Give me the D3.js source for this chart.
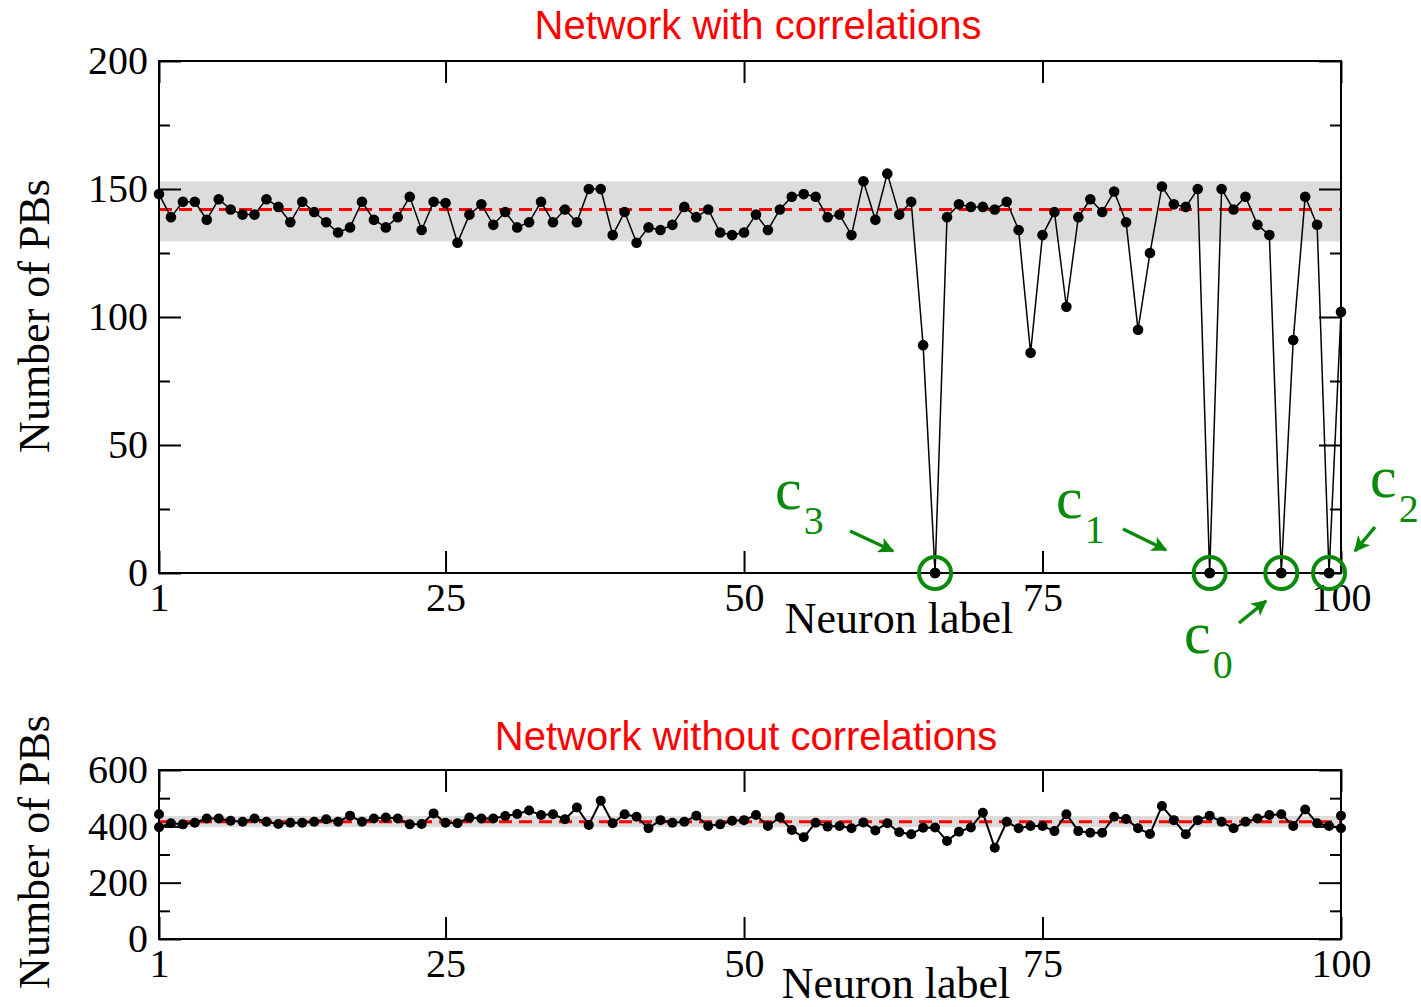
<!DOCTYPE html>
<html>
<head>
<meta charset="utf-8">
<script src="https://cdn.jsdelivr.net/npm/d3@7"></script>
<style>
  html, body { margin: 0; padding: 0; background: #fff; }
  svg { display: block; }
  .tick text { font-family: "Liberation Serif", "Times New Roman", serif; font-size: 40px; fill: #000; }
  .tick line { stroke: #000; stroke-width: 2px; }
</style>
</head>
<body>
<svg id="chart" width="1421" height="1007"></svg>
<script>
// Neuron labels on the x axis
const neurons = d3.range(1, 101);

// Number of population bursts per neuron, network with correlations
const withCorr = [
  148, 139, 145, 145, 138, 146, 142, 140, 140, 146,
  143, 137, 145, 141, 137, 133, 135, 145, 138, 135,
  139, 147, 134, 145, 144.5, 129, 140, 144, 136, 141,
  135, 137, 145, 137, 142, 137, 150, 150, 132, 141,
  129, 135, 134, 136, 143, 139, 142, 133, 132, 133,
  140, 134, 142, 147, 148, 147, 139, 140, 132, 153,
  138, 156, 140, 145, 89, 0, 139, 144, 143, 143,
  142, 145, 134, 86, 132, 141, 104, 139, 146, 141,
  149, 137, 95, 125, 151, 144, 143, 150, 0, 150,
  142, 147, 136, 132, 0, 91, 147, 136, 0, 102
];
const withMean = 142;
const withBand = [129.5, 153];

// Network without correlations (the ends carry two readings each)
const withoutX = [1].concat(neurons, [100]);
const withoutCorr = [
  443,
  397, 411, 407, 413, 428, 428, 420, 416, 428, 416,
  408, 413, 413, 416, 425, 416, 438, 416, 428, 431,
  428, 407, 408, 446, 413, 411, 431, 428, 428, 437,
  444, 456, 440, 443, 425, 467, 405, 491, 411, 443,
  434, 393, 422, 413, 416, 438, 401, 407, 420, 422,
  440, 401, 432, 387, 361, 413, 399, 401, 393, 414,
  385, 411, 379, 372, 395, 396, 348, 381, 396, 448,
  324, 416, 393, 401, 401, 383, 443, 383, 377, 377,
  434, 426, 393, 373, 472, 422, 372, 422, 438, 416,
  393, 416, 428, 440, 443, 401, 460, 411, 401, 393,
  438
];
const withoutMean = 416;
const withoutBand = [397, 437];

// Silent neurons marked on the upper panel
const marked = [
  { name: "c", sub: "3", neuron: 66, tx: 775, ty: 509, from: [850, 531], to: [893, 551] },
  { name: "c", sub: "1", neuron: 89, tx: 1056, ty: 518, from: [1123, 529], to: [1166, 550] },
  { name: "c", sub: "0", neuron: 95, tx: 1184, ty: 653, from: [1239, 623], to: [1266, 601] },
  { name: "c", sub: "2", neuron: 99, tx: 1370, ty: 497, from: [1375, 527], to: [1355, 551] }
];

const xTicks = [1, 25, 50, 75, 100];
const topTicks = [0, 50, 100, 150, 200];
const topMinor = [25, 75, 125, 175];
const botTicks = [0, 200, 400, 600];
const botMinor = [100, 300, 500];

const svg = d3.select("#chart");
const green = "#0a8a0a";

function panel(opts) {
  const { x, y, values, xs, mean, band, yTicks, yMinor, title, titleX, titleY, lineW, dotR } = opts;
  const g = svg.append("g");
  const [x0, x1] = x.range();
  const [y0, y1] = y.range();

  // one-sigma band and mean
  g.append("rect")
    .attr("x", x0).attr("width", x1 - x0)
    .attr("y", y(band[1])).attr("height", y(band[0]) - y(band[1]))
    .attr("fill", "#dcdcdc");
  g.append("line")
    .attr("x1", x0).attr("x2", x1)
    .attr("y1", y(mean)).attr("y2", y(mean))
    .attr("stroke", "#ff0000").attr("stroke-width", 3)
    .attr("stroke-dasharray", "13,7");

  // axes with inward ticks on all four sides
  const fmt = d => d;
  g.append("g").attr("transform", `translate(0,${y0})`)
    .call(d3.axisBottom(x).tickValues(xTicks).tickFormat(fmt).tickSize(-22).tickPadding(10).tickSizeOuter(0))
    .call(a => a.select(".domain").remove());
  g.append("g").attr("transform", `translate(0,${y1})`)
    .call(d3.axisTop(x).tickValues(xTicks).tickFormat("").tickSize(-22).tickSizeOuter(0))
    .call(a => a.select(".domain").remove());
  g.append("g").attr("transform", `translate(${x0},0)`)
    .call(d3.axisLeft(y).tickValues(yTicks).tickFormat(fmt).tickSize(-22).tickPadding(11).tickSizeOuter(0))
    .call(a => a.select(".domain").remove());
  g.append("g").attr("transform", `translate(${x0},0)`)
    .call(d3.axisLeft(y).tickValues(yMinor).tickFormat("").tickSize(-11).tickSizeOuter(0))
    .call(a => a.select(".domain").remove());
  g.append("g").attr("transform", `translate(${x1},0)`)
    .call(d3.axisRight(y).tickValues(yTicks).tickFormat("").tickSize(-22).tickSizeOuter(0))
    .call(a => a.select(".domain").remove());
  g.append("g").attr("transform", `translate(${x1},0)`)
    .call(d3.axisRight(y).tickValues(yMinor).tickFormat("").tickSize(-11).tickSizeOuter(0))
    .call(a => a.select(".domain").remove());

  // series
  const pts = values.map((v, i) => [xs[i], v]);
  g.append("path")
    .datum(pts)
    .attr("fill", "none").attr("stroke", "#000").attr("stroke-width", lineW)
    .attr("d", d3.line().x(d => x(d[0])).y(d => y(d[1])));
  g.selectAll("circle.pt").data(pts).join("circle")
    .attr("class", "pt")
    .attr("cx", d => x(d[0])).attr("cy", d => y(d[1])).attr("r", dotR)
    .attr("fill", "#000");

  // frame
  g.append("rect")
    .attr("x", x0).attr("y", y1).attr("width", x1 - x0).attr("height", y0 - y1)
    .attr("fill", "none").attr("stroke", "#000").attr("stroke-width", 2);

  g.append("text")
    .attr("x", titleX).attr("y", titleY).attr("text-anchor", "middle")
    .attr("font-family", "'Liberation Sans', Arial, sans-serif").attr("font-size", 40)
    .attr("fill", "#ff0000").text(title);
  return g;
}

// upper panel
const xTop = d3.scaleLinear().domain([1, 100]).range([159, 1341]);
const yTop = d3.scaleLinear().domain([0, 200]).range([573, 61]);
const gTop = panel({
  x: xTop, y: yTop, values: withCorr, xs: neurons, mean: withMean, band: withBand,
  yTicks: topTicks, yMinor: topMinor, title: "Network with correlations",
  titleX: 758, titleY: 39, lineW: 1.5, dotR: 5.3
});

// lower panel
const xBot = d3.scaleLinear().domain([1, 100]).range([159, 1341]);
const yBot = d3.scaleLinear().domain([0, 600]).range([939, 770]);
panel({
  x: xBot, y: yBot, values: withoutCorr, xs: withoutX, mean: withoutMean, band: withoutBand,
  yTicks: botTicks, yMinor: botMinor, title: "Network without correlations",
  titleX: 746, titleY: 750, lineW: 2, dotR: 5
});

// axis titles
const serif = "'Liberation Serif', 'Times New Roman', serif";
[[899, 633], [896, 998]].forEach(([cx, cy]) => {
  svg.append("text").attr("x", cx).attr("y", cy).attr("text-anchor", "middle")
    .attr("font-family", serif).attr("font-size", 44).text("Neuron label");
});
[[49, 316], [49, 852]].forEach(([cx, cy]) => {
  svg.append("text").attr("transform", `translate(${cx},${cy}) rotate(-90)`)
    .attr("text-anchor", "middle")
    .attr("font-family", serif).attr("font-size", 44).text("Number of PBs");
});

// markers for silent neurons
svg.append("defs").append("marker")
  .attr("id", "head").attr("viewBox", "0 0 10 10")
  .attr("refX", 9).attr("refY", 5)
  .attr("markerWidth", 4.5).attr("markerHeight", 4.5)
  .attr("markerUnits", "strokeWidth")
  .attr("orient", "auto")
  .append("path").attr("d", "M0,0 L10,5 L0,10 L2.5,5 Z").attr("fill", green);

marked.forEach(m => {
  const v = withCorr[m.neuron - 1];
  gTop.append("circle")
    .attr("cx", xTop(m.neuron)).attr("cy", yTop(v)).attr("r", 16)
    .attr("fill", "none").attr("stroke", green).attr("stroke-width", 4);
  gTop.append("circle")
    .attr("cx", xTop(m.neuron)).attr("cy", yTop(v)).attr("r", 5.3).attr("fill", "#000");
  const t = svg.append("text").attr("x", m.tx).attr("y", m.ty)
    .attr("font-family", serif).attr("fill", green);
  t.append("tspan").attr("font-size", 60).text(m.name);
  t.append("tspan").attr("font-size", 40).attr("dx", 2).attr("dy", 25).text(m.sub);
  svg.append("line")
    .attr("x1", m.from[0]).attr("y1", m.from[1])
    .attr("x2", m.to[0]).attr("y2", m.to[1])
    .attr("stroke", green).attr("stroke-width", 3.5)
    .attr("marker-end", "url(#head)");
});
</script>
</body>
</html>
